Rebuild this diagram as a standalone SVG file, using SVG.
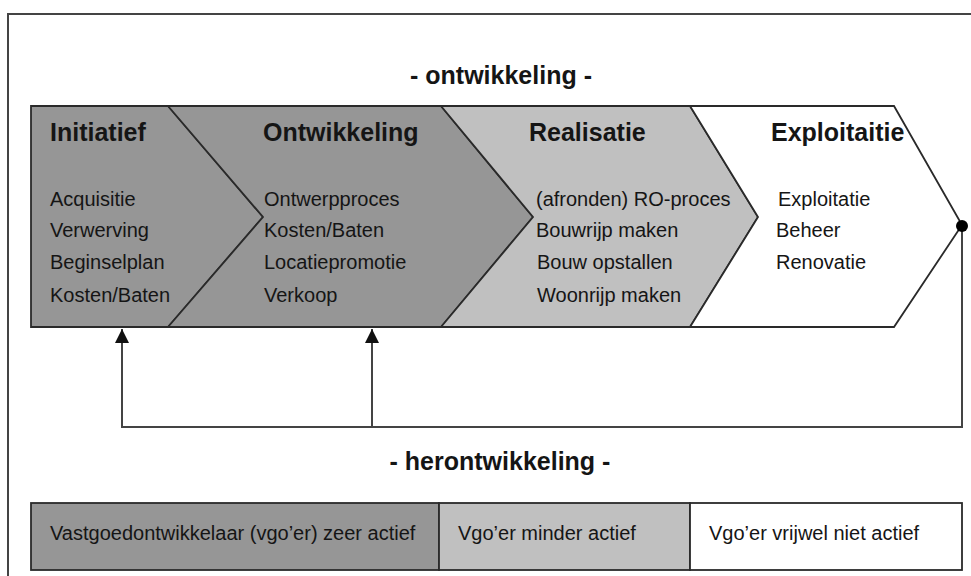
<svg xmlns="http://www.w3.org/2000/svg" width="971" height="576" viewBox="0 0 971 576">
<defs>
<style>
.t{font-family:"Liberation Sans",Arial,sans-serif;fill:#151515}
.h{font-size:25px;font-weight:bold}
.i{font-size:20px}
.shape{stroke:#2a2a2a;stroke-width:1.8;stroke-linejoin:miter}
.conn{fill:none;stroke:#444;stroke-width:2}
</style>
<marker id="arr" viewBox="0 0 10 10" refX="10" refY="5" markerWidth="15" markerHeight="14" markerUnits="userSpaceOnUse" orient="auto">
<path d="M0,0 L10,5 L0,10 Z" fill="#111"/>
</marker>
</defs>
<rect x="0" y="0" width="971" height="576" fill="#fff"/>
<path d="M8,576 L8,14 L971,14" fill="none" stroke="#444" stroke-width="2"/>
<text class="t h" x="501" y="84" text-anchor="middle">- ontwikkeling -</text>
<g id="initiatief">
<path class="shape" d="M31,106 L168,106 L263,217 L168,327 L31,327 Z" fill="#969696"/>
<text class="t h" x="50" y="141">Initiatief</text>
<text class="t i" x="50" y="206">Acquisitie</text>
<text class="t i" x="50" y="237">Verwerving</text>
<text class="t i" x="50" y="269">Beginselplan</text>
<text class="t i" x="50" y="302">Kosten/Baten</text>
</g>
<g id="ontwikkeling">
<path class="shape" d="M168,106 L441,106 L533,217 L441,327 L168,327 L263,217 Z" fill="#969696"/>
<text class="t h" x="263" y="141">Ontwikkeling</text>
<text class="t i" x="264" y="206">Ontwerpproces</text>
<text class="t i" x="264" y="237">Kosten/Baten</text>
<text class="t i" x="264" y="269">Locatiepromotie</text>
<text class="t i" x="264" y="302">Verkoop</text>
</g>
<g id="realisatie">
<path class="shape" d="M441,106 L690,106 L758,217 L690,327 L441,327 L533,217 Z" fill="#c0c0c0"/>
<text class="t h" x="529" y="141">Realisatie</text>
<text class="t i" x="536" y="206">(afronden) RO-proces</text>
<text class="t i" x="536" y="237">Bouwrijp maken</text>
<text class="t i" x="537" y="269">Bouw opstallen</text>
<text class="t i" x="537" y="302">Woonrijp maken</text>
</g>
<g id="exploitatie">
<path class="shape" d="M690,106 L894,106 L962,225 L894,327 L690,327 L758,217 Z" fill="#fff"/>
<text class="t h" x="771" y="141">Exploitaitie</text>
<text class="t i" x="778" y="206">Exploitatie</text>
<text class="t i" x="776" y="237">Beheer</text>
<text class="t i" x="776" y="269">Renovatie</text>
</g>
<g id="connectors">
<path class="conn" d="M962,226 L962,427 L122,427 L122,329" marker-end="url(#arr)"/>
<path class="conn" d="M372,427 L372,329" marker-end="url(#arr)"/>
<circle cx="962" cy="226" r="6" fill="#000"/>
</g>
<text class="t h" x="500" y="470" text-anchor="middle">- herontwikkeling -</text>
<g id="vgo-zeer-actief">
<rect class="shape" x="31" y="503" width="408" height="67" fill="#969696"/>
<text class="t i" x="50" y="540">Vastgoedontwikkelaar (vgo’er) zeer actief</text>
</g>
<g id="vgo-minder-actief">
<rect class="shape" x="439" y="503" width="251" height="67" fill="#c0c0c0"/>
<text class="t i" x="458" y="540">Vgo’er minder actief</text>
</g>
<g id="vgo-niet-actief">
<rect class="shape" x="690" y="503" width="272" height="67" fill="#fff"/>
<text class="t i" x="709" y="540">Vgo’er vrijwel niet actief</text>
</g>
</svg>
